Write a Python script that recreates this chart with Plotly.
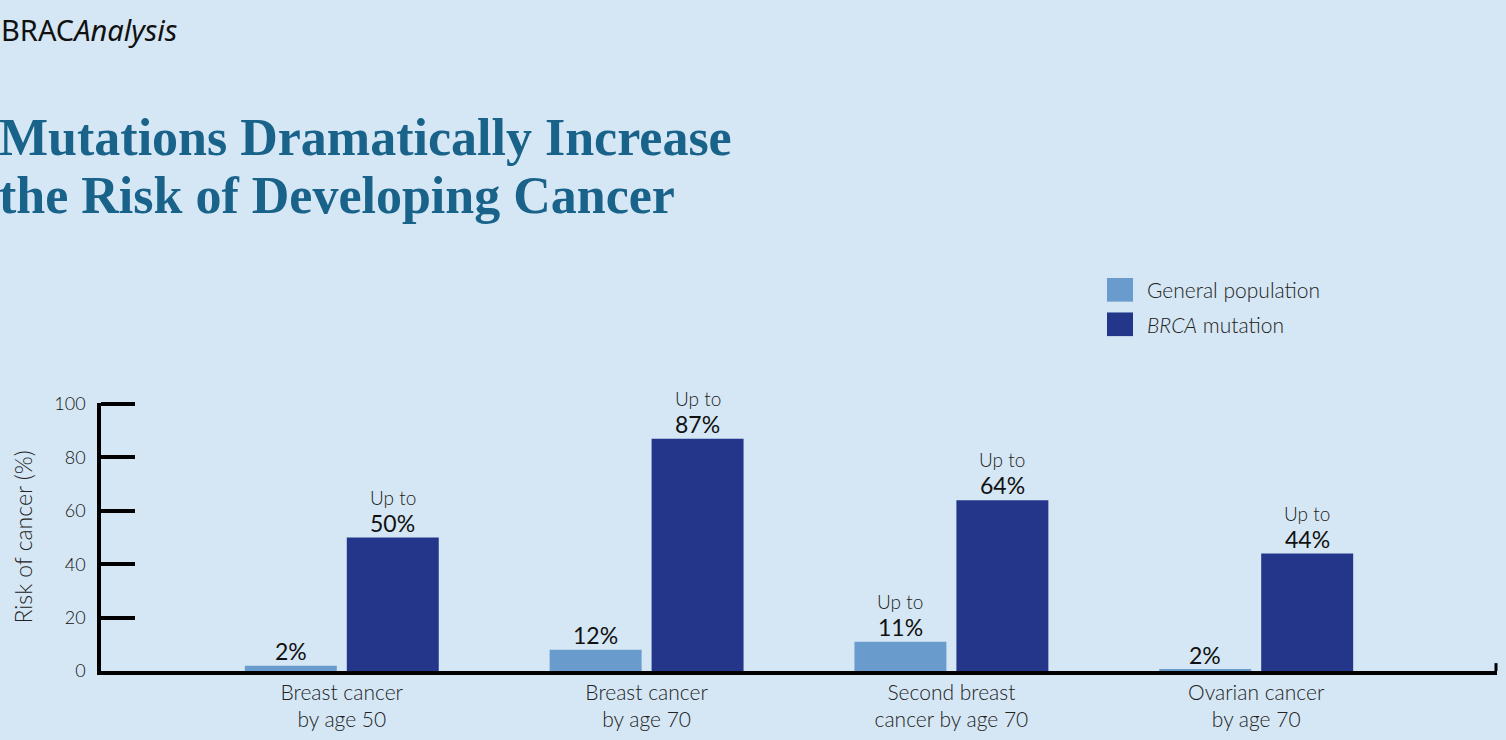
import plotly.graph_objects as go

# ---- data ----
categories = ["Breast cancer<br>by age 50", "Breast cancer<br>by age 70",
              "Second breast<br>cancer by age 70", "Ovarian cancer<br>by age 70"]
general_population = [2, 8, 11, 0.5]
brca_mutation = [50, 87, 64, 44]
general_labels = ["2%", "12%", "Up to<br>11%", "2%"]
brca_labels = ["Up to<br>50%", "Up to<br>87%", "Up to<br>64%", "Up to<br>44%"]
y_ticks = [0, 20, 40, 60, 80, 100]
series_names = ["General population", "<i>BRCA</i> mutation"]
title_lines = ["Mutations Dramatically Increase", "the Risk of Developing Cancer"]

# ---- style ----
BG = "#d5e7f5"
LIGHT = "#6a9bcd"
DARK = "#243689"
TEAL = "#19638a"
W, H = 1506, 740
PL, PR, PT, PB = 101, 1497, 404, 675   # plot area in pixels (value 0..100)
LFONT = "Lato"
Y_MAX = 100.4
TOP = PB - (PB - PT) * Y_MAX / 100.0


def px(x):
    return (x - PL) / (PR - PL)


def py(y):
    return (PB - y) / (PB - TOP)


fig = go.Figure()
fig.add_bar(x=categories, y=general_population, name=series_names[0],
            marker=dict(color=LIGHT, line_width=0), showlegend=False)
fig.add_bar(x=categories, y=brca_mutation, name=series_names[1],
            marker=dict(color=DARK, line_width=0), showlegend=False)

annotations = []


def add_label(cat, v, label, xshift):
    parts = label.split("<br>")
    annotations.append(dict(x=cat, y=v, xref="x", yref="y", text=parts[-1],
                            xshift=xshift, yshift=-1, yanchor="bottom", showarrow=False,
                            font=dict(family=LFONT, size=23, color="#111", weight=400)))
    if len(parts) > 1:
        annotations.append(dict(x=cat, y=v, xref="x", yref="y", text=parts[0],
                                xshift=xshift, yshift=27, yanchor="bottom", showarrow=False,
                                font=dict(family=LFONT, size=19, color="#222", weight=300)))


for cat, v, lab in zip(categories, general_population, general_labels):
    add_label(cat, v, lab, -51)
for cat, v, lab in zip(categories, brca_mutation, brca_labels):
    add_label(cat, v, lab, 51)

# titles
annotations.append(dict(x=px(-1), y=py(24), xref="paper", yref="paper", xanchor="left",
                        yanchor="middle", showarrow=False, text="BRAC<i>Analysis</i>",
                        font=dict(family="Noto Sans", size=29, color="#111")))
for i, line in enumerate(title_lines):
    annotations.append(dict(x=px(-3), y=py(133 + 59 * i), xref="paper", yref="paper",
                            xanchor="left", yanchor="middle", showarrow=False, text=line,
                            font=dict(family="Liberation Serif", size=52, color=TEAL,
                                      weight="bold")))

# legend (drawn manually to match large swatches)
shapes = []
for i, (name, col) in enumerate(zip(series_names, [LIGHT, DARK])):
    top = 276 + 35 * i
    shapes.append(dict(type="rect", xref="paper", yref="paper",
                       x0=px(1107), x1=px(1133), y0=py(top + 24), y1=py(top),
                       fillcolor=col, line_width=0))
    annotations.append(dict(x=px(1145), y=py(top + 12), xref="paper", yref="paper",
                            xanchor="left", yanchor="middle", showarrow=False, text=name,
                            font=dict(family=LFONT, size=21, color="#222", weight=300)))

# small end tick on baseline
shapes.append(dict(type="line", xref="paper", yref="paper", x0=px(1496), x1=px(1496),
                   y0=0, y1=py(667), line=dict(color="black", width=3)))

fig.update_layout(
    width=W, height=H,
    paper_bgcolor=BG, plot_bgcolor=BG,
    margin=dict(l=PL, r=W - PR, t=TOP, b=H - PB, pad=0),
    barmode="group", bargap=0.331, bargroupgap=0.098,
    annotations=annotations, shapes=shapes,
    showlegend=False,
    xaxis=dict(range=[-0.79, 3.79], showline=True, linecolor="black", linewidth=3.5,
               ticks="", showgrid=False, zeroline=False,
               tickfont=dict(family=LFONT, size=21, color="#222", weight=300)),
    yaxis=dict(range=[0, Y_MAX], tickvals=y_ticks, showline=True, linecolor="black",
               linewidth=3.5, ticks="inside", ticklen=34, tickwidth=3.5, tickcolor="black",
               showgrid=False, zeroline=False, ticklabelstandoff=8,
               tickfont=dict(family=LFONT, size=18, color="#111", weight=300),
               title=dict(text="Risk of cancer (%)", standoff=16,
                          font=dict(family=LFONT, size=23, color="#222", weight=300))),
)

fig.write_html("out.html", config={"displayModeBar": False},
               post_script="document.body.style.margin='0px';")
